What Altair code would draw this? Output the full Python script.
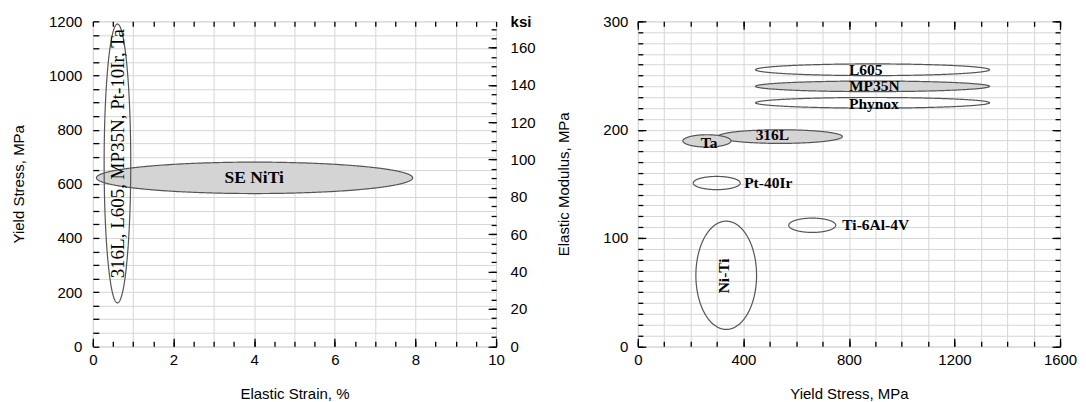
import altair as alt
import numpy as np
import pandas as pd

# ---------------- Left panel: Yield stress (MPa) vs Elastic strain (%) ----------------
L_cx = [4.01, 0.61]          # ellipse centres, elastic strain %
L_cy = [622, 675]            # ellipse centres, yield stress MPa
L_rx = [3.92, 0.33]          # half-widths
L_ry = [58, 515]             # half-heights
L_filled = [True, False]
L_lab = ["SE NiTi", "316L, L605, MP35N, Pt-10Ir, Ta"]
L_lab_x = [4.0, 0.625]
L_lab_y = [622, 711]
L_lab_align = ["center", "center"]
L_lab_angle = [0, 270]
L_lab_bold = [True, False]
L_lab_size = [17.5, 19]

L_xdom = [0, 10]
L_ydom = [0, 1200]
L_xvals = [i * 0.5 for i in range(21)]
L_xmajor = [0, 2, 4, 6, 8, 10]
L_yvals = list(range(0, 1201, 50))
L_ymajor = [0, 200, 400, 600, 800, 1000, 1200]
KSI_PER_MPA = 1 / 6.894757
ksi_labels = [0, 20, 40, 60, 80, 100, 120, 140, 160]
ksi_minor = list(range(0, 171, 5))

# ---------------- Right panel: Elastic modulus (MPa) vs Yield stress (MPa) ----------------
R_lab = ["316L", "Ta", "L605", "MP35N", "Phynox", "Pt-40Ir", "Ti-6Al-4V", "Ni-Ti"]
R_cx = [539, 262, 889.5, 889.5, 889.5, 299, 661, 335]
R_cy = [193.6, 189.6, 255.3, 240, 224.8, 150.7, 111.7, 65.5]
R_rx = [236, 91, 443.5, 443.5, 443.5, 89, 89, 115]
R_ry = [6.3, 5.7, 5.4, 4.9, 4.9, 6.1, 6.6, 50]
R_filled = [True, True, False, True, False, False, False, False]
R_lab_x = [510, 270, 800, 800, 800, 403, 775, 325]
R_lab_y = [195, 188, 255.3, 240, 224, 150.7, 111.7, 65]
R_lab_align = ["center", "center", "left", "left", "left", "left", "left", "center"]
R_lab_angle = [0, 0, 0, 0, 0, 0, 0, 270]
R_lab_bold = [True] * 8
R_lab_size = [15.5] * 8

R_xdom = [0, 1600]
R_ydom = [0, 300]
R_xvals = list(range(0, 1601, 100))
R_xmajor = [0, 400, 800, 1200, 1600]
R_yvals = list(range(0, 301, 10))
R_ymajor = [0, 100, 200, 300]

FILL = "#d4d4d4"
STROKE = "#555555"
GRID = "#d6d6d6"
SANS = "Liberation Sans"
SERIF = "Liberation Serif"
FS = 15


def ell_df(cx, cy, rx, ry):
    t = np.linspace(0, np.pi, 241)
    return pd.DataFrame({"x": cx + rx * np.cos(t),
                         "y": cy + ry * np.sin(t),
                         "y2": cy - ry * np.sin(t)})


def main_axis(orient, values, major, title, label_pad, title_pad):
    return alt.Axis(orient=orient, values=values, grid=True, gridColor=GRID, gridWidth=1,
                    ticks=False, tickSize=0, domain=False, format="d",
                    labelExpr=f"indexof({major}, datum.value) >= 0 ? datum.label : ''",
                    labelFlush=False, labelOverlap=False, labelBound=False,
                    labelFontSize=FS, titleFontSize=FS, labelFont=SANS, titleFont=SANS,
                    labelColor="black", titleColor="black", titleFontWeight="normal",
                    labelPadding=label_pad, titlePadding=title_pad, title=title)


def tick_axis(orient, values, size):
    return alt.Axis(orient=orient, values=values, offset=-size, tickSize=size,
                    tickColor="black", tickWidth=1.3, labels=False, domain=False,
                    grid=False, title=None)


def panel(cxs, cys, rxs, rys, filled, labs, lxs, lys, aligns, angles, bolds, sizes,
          xdom, ydom, x_axes, y_axes, width, height, extra_y_axes=(), extra_ydom=None):
    xs = alt.Scale(domain=xdom, nice=False, zero=False)
    ys = alt.Scale(domain=ydom, nice=False, zero=False)
    layers = []
    idx = 0

    def pick(lst, i):
        return lst[i] if i < len(lst) else None

    for cx, cy, rx, ry, f in zip(cxs, cys, rxs, rys, filled):
        ch = alt.Chart(ell_df(cx, cy, rx, ry)).mark_area(
            orient="vertical", fill=FILL if f else "white", fillOpacity=1 if f else 0,
            stroke=STROKE, strokeWidth=1.2, strokeOpacity=1
        ).encode(
            x=alt.X("x:Q", scale=xs, axis=pick(x_axes, idx)),
            y=alt.Y("y:Q", scale=ys, axis=pick(y_axes, idx)),
            y2="y2:Q",
        )
        layers.append(ch)
        idx += 1
    for lab, lx, ly, al, an, b, s in zip(labs, lxs, lys, aligns, angles, bolds, sizes):
        df = pd.DataFrame({"name": [lab], "x": [lx], "y": [ly]})
        ch = alt.Chart(df).mark_text(
            font=SERIF, fontSize=s, fontWeight="bold" if b else "normal",
            align=al, baseline="middle", angle=an, color="black"
        ).encode(
            x=alt.X("x:Q", scale=xs, axis=pick(x_axes, idx)),
            y=alt.Y("y:Q", scale=ys, axis=pick(y_axes, idx)),
            text="name:N",
        )
        layers.append(ch)
        idx += 1
    # secondary-unit axes (carried by invisible points on the first ellipse's outline)
    if extra_y_axes:
        ks = alt.Scale(domain=extra_ydom, nice=False, zero=False)
        base = ell_df(cxs[0], cys[0], rxs[0], rys[0])
        for ax in extra_y_axes:
            ch = alt.Chart(base).transform_calculate(
                k=f"datum.y * {KSI_PER_MPA}"
            ).mark_point(opacity=0, size=1).encode(
                x=alt.X("x:Q", scale=xs, axis=None),
                y=alt.Y("k:Q", scale=ks, axis=ax),
            )
            layers.append(ch)
    return (alt.layer(*layers)
            .resolve_scale(y="independent")
            .resolve_axis(x="independent", y="independent")
            .properties(width=width, height=height))


W_L, W_R, H = 404, 423, 325.5

ksi_label_axis = alt.Axis(orient="right", values=ksi_labels, ticks=False, tickSize=0,
                          domain=False, grid=False, labelPadding=14, labelFontSize=FS,
                          labelFont=SANS, labelColor="black", labelFlush=False,
                          labelOverlap=False, labelBound=False, format="d",
                          title="ksi", titleAngle=0, titleAlign="left",
                          titleBaseline="middle", titleX=14, titleY=0,
                          titleFont=SANS, titleFontSize=FS, titleFontWeight="bold",
                          titleColor="black")

left = panel(
    L_cx, L_cy, L_rx, L_ry, L_filled, L_lab, L_lab_x, L_lab_y, L_lab_align, L_lab_angle,
    L_lab_bold, L_lab_size, L_xdom, L_ydom,
    x_axes=[main_axis("bottom", L_xvals, L_xmajor, "Elastic Strain, %", 6, 19),
            tick_axis("bottom", L_xvals, 5),
            tick_axis("bottom", L_xmajor, 8),
            tick_axis("top", L_xvals, 5)],
    y_axes=[main_axis("left", L_yvals, L_ymajor, "Yield Stress, MPa", 11, 22),
            tick_axis("left", L_yvals, 6)],
    width=W_L, height=H,
    extra_y_axes=[ksi_label_axis, tick_axis("right", ksi_minor, 5),
                  tick_axis("right", ksi_labels, 8)],
    extra_ydom=[0, 1200 * KSI_PER_MPA],
)

right = panel(
    R_cx, R_cy, R_rx, R_ry, R_filled, R_lab, R_lab_x, R_lab_y, R_lab_align, R_lab_angle,
    R_lab_bold, R_lab_size, R_xdom, R_ydom,
    x_axes=[main_axis("bottom", R_xvals, R_xmajor, "Yield Stress, MPa", 6, 19),
            tick_axis("bottom", R_xvals, 5),
            tick_axis("bottom", R_xmajor, 8),
            tick_axis("top", R_xvals, 5),
            tick_axis("top", R_xmajor, 8)],
    y_axes=[main_axis("left", R_yvals, R_ymajor, "Elastic Modulus, MPa", 10, 31),
            tick_axis("left", R_yvals, 5),
            tick_axis("left", R_ymajor, 8),
            tick_axis("right", R_yvals, 5),
            tick_axis("right", R_ymajor, 8)],
    width=W_R, height=H,
)

chart = (alt.hconcat(left, right, spacing=20)
         .properties(padding={"left": 3, "right": 0, "top": 5, "bottom": 5})
         .configure_view(stroke="black", strokeWidth=1.6)
         .configure(background="white"))

chart.save("out.html", embed_options={"renderer": "svg", "actions": False})
